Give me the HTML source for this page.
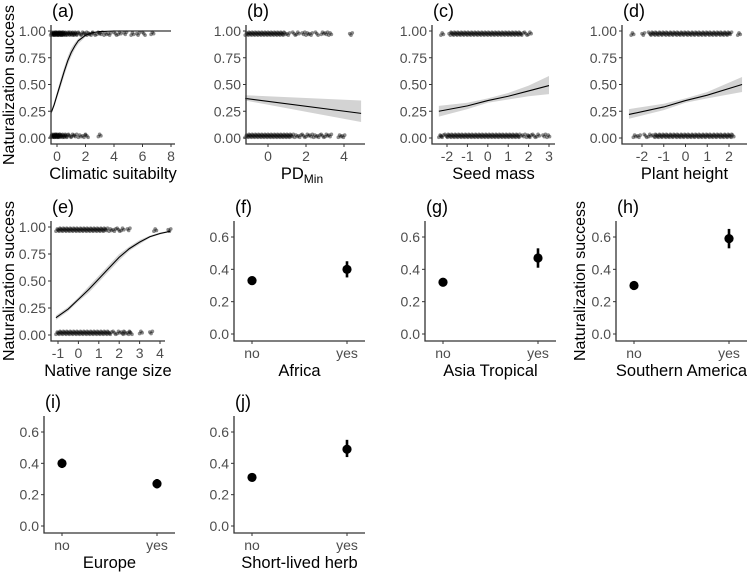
<!DOCTYPE html>
<html><head><meta charset="utf-8">
<style>
html,body{margin:0;padding:0;background:#fff;}
svg{display:block;font-family:"Liberation Sans",Arial,sans-serif;}
.tk{fill:#4d4d4d;font-size:14px;}
.tt{fill:#000;font-size:16.5px;}
.yt{fill:#000;font-size:16px;}
.pl{fill:#000;font-size:18px;}
</style></head>
<body>
<svg id="fig" width="747" height="573" viewBox="0 0 747 573" xmlns="http://www.w3.org/2000/svg"></svg>
<script>
// ---- data ----
const aTop=[-0.45,-0.4,-0.35,-0.3,-0.25,-0.2,-0.15,-0.1,-0.05,0,0.05,0.1,0.15,0.2,0.25,0.3,0.35,0.4,0.5,0.6,0.7,0.8,0.9,1.0,1.1,1.2,1.3,1.5,1.7,1.9,2.1,2.3,2.5,2.8,3.0,3.3,3.6,4.0,4.3,4.7,5.2,5.6,6.0,6.6];
const aBot=[-0.45,-0.4,-0.35,-0.3,-0.25,-0.2,-0.15,-0.1,-0.05,0,0.05,0.1,0.2,0.3,0.4,0.5,0.6,0.8,1.0,1.2,1.5,1.8,2.0,2.9];
const aCx=[-0.4,-0.2,0,0.25,0.5,0.75,1,1.25,1.5,2,2.5,3,4,8];
const aCy=[0.24,0.31,0.40,0.51,0.62,0.72,0.80,0.86,0.91,0.96,0.985,0.995,1,1];
const aLo=[0.22,0.29,0.37,0.47,0.58,0.68,0.76,0.83,0.88,0.945,0.98,0.99,1,1];
const aHi=[0.26,0.34,0.43,0.55,0.66,0.76,0.84,0.89,0.93,0.975,0.99,1,1,1];
const bTop=[-1.2,-1.1,-1.0,-0.9,-0.8,-0.7,-0.6,-0.5,-0.4,-0.3,-0.2,-0.1,0,0.1,0.2,0.3,0.4,0.5,0.6,0.7,0.8,1.0,1.3,1.5,1.8,2.0,2.2,2.5,2.8,3.0,3.2,4.3];
const bBot=[-1.2,-1.1,-1.0,-0.9,-0.8,-0.7,-0.6,-0.5,-0.4,-0.3,-0.2,-0.1,0,0.1,0.2,0.3,0.4,0.5,0.6,0.7,0.8,0.9,1.0,1.1,1.2,1.4,1.6,1.8,2.0,2.2,2.4,2.6,2.8,3.0,3.2,3.7,3.9];
const bCx=[-1.2,4.9];const bCy=[0.37,0.23];const bLo=[0.35,0.15];const bHi=[0.40,0.35];
const cTop=[-2.3,-1.9,-1.8,-1.7,-1.6,-1.5,-1.4,-1.3,-1.2,-1.1,-1.0,-0.9,-0.8,-0.7,-0.6,-0.5,-0.4,-0.3,-0.2,-0.1,0,0.1,0.2,0.3,0.4,0.5,0.6,0.7,0.8,0.9,1.0,1.1,1.2,1.3,1.4,1.5,1.6,1.8,2.0];
const cBot=[-2.4,-2.3,-2.1,-2.0,-1.9,-1.8,-1.7,-1.6,-1.5,-1.4,-1.3,-1.2,-1.1,-1.0,-0.9,-0.8,-0.7,-0.6,-0.5,-0.4,-0.3,-0.2,-0.1,0,0.1,0.2,0.3,0.4,0.5,0.6,0.7,0.8,0.9,1.0,1.1,1.2,1.3,1.4,1.5,1.7,1.9,2.0,2.2,2.4,2.7,2.9];
const cCx=[-2.4,-1,0,1,2,3];const cCy=[0.25,0.30,0.35,0.39,0.44,0.49];
const cLo=[0.20,0.27,0.33,0.36,0.39,0.41];const cHi=[0.30,0.33,0.37,0.42,0.49,0.58];
const dTop=[-2.5,-2.0,-1.7,-1.6,-1.5,-1.4,-1.3,-1.2,-1.1,-1.0,-0.9,-0.8,-0.7,-0.6,-0.5,-0.4,-0.3,-0.2,-0.1,0,0.1,0.2,0.3,0.4,0.5,0.6,0.7,0.8,0.9,1.0,1.1,1.2,1.3,1.4,1.5,1.6,1.7,1.8,1.9,2.0,2.4];
const dBot=[-2.4,-2.2,-1.9,-1.7,-1.5,-1.4,-1.3,-1.2,-1.1,-1.0,-0.9,-0.8,-0.7,-0.6,-0.5,-0.4,-0.3,-0.2,-0.1,0,0.1,0.2,0.3,0.4,0.5,0.6,0.7,0.8,0.9,1.0,1.1,1.2,1.3,1.4,1.5,1.6,1.7,1.8,1.9,2.0,2.1];
const dCx=[-2.6,-1,0,1,2.6];const dCy=[0.22,0.29,0.35,0.40,0.50];
const dLo=[0.18,0.26,0.33,0.37,0.43];const dHi=[0.27,0.32,0.37,0.43,0.57];
const eTop=[-1.1,-1.0,-0.9,-0.8,-0.7,-0.6,-0.5,-0.4,-0.3,-0.2,-0.1,0,0.1,0.2,0.3,0.4,0.5,0.6,0.7,0.8,0.9,1.0,1.1,1.2,1.3,1.5,1.7,1.9,2.1,2.4,3.7,4.4];
const eBot=[-1.1,-1.0,-0.9,-0.8,-0.7,-0.6,-0.5,-0.4,-0.3,-0.2,-0.1,0,0.1,0.2,0.3,0.4,0.5,0.6,0.7,0.8,0.9,1.0,1.1,1.2,1.3,1.4,1.5,1.7,1.9,2.1,2.2,2.4,2.5,3.0,3.5];
const eCx=[-1.1,-0.5,0,0.5,1,1.5,2,2.5,3,3.5,4,4.5];
const eCy=[0.16,0.24,0.33,0.42,0.52,0.62,0.72,0.80,0.86,0.91,0.94,0.96];
const eLo=[0.14,0.22,0.31,0.39,0.49,0.59,0.69,0.78,0.84,0.90,0.93,0.955];
const eHi=[0.18,0.26,0.35,0.45,0.55,0.65,0.75,0.82,0.88,0.92,0.95,0.965];
const catLabels=["no","yes"];
const fMean=[0.33,0.40];const fLo=[0.31,0.35];const fHi=[0.35,0.45];
const gMean=[0.32,0.47];const gLo=[0.30,0.41];const gHi=[0.34,0.53];
const hMean=[0.30,0.59];const hLo=[0.28,0.53];const hHi=[0.32,0.65];
const iMean=[0.40,0.27];const iLo=[0.37,0.24];const iHi=[0.43,0.30];
const jMean=[0.31,0.49];const jLo=[0.29,0.44];const jHi=[0.33,0.55];
const probTicks=[0,0.25,0.5,0.75,1];const probTickLabels=["0.00","0.25","0.50","0.75","1.00"];
const catTicks=[0,0.2,0.4,0.6];const catTickLabels=["0.0","0.2","0.4","0.6"];

// ---- drawing ----
const NS="http://www.w3.org/2000/svg";
const svg=document.getElementById('fig');
function mk(tag,attrs,parent){const e=document.createElementNS(NS,tag);for(const k in attrs)e.setAttribute(k,attrs[k]);(parent||svg).appendChild(e);return e;}
function txt(s,x,y,cls,anchor,parent){const t=mk('text',{x:x,y:y,class:cls,'text-anchor':anchor||'middle'},parent);t.textContent=s;return t;}

function axes(g,L,R,T,B,sy,yt,ytl,xt,xtl,sx){
  const ax=mk('path',{d:`M${L} ${T}V${B}H${R}`,stroke:'#333',fill:'none','stroke-width':1.3},g);
  
  
  yt.forEach((v,i)=>{const y=sy(v);mk('line',{x1:L-3,x2:L,y1:y,y2:y,stroke:'#333'},g);
    const t=txt(ytl[i],L-5,y+5,'tk','end',g);
    
    });
  xt.forEach((v,i)=>{const x=sx(v);mk('line',{x1:x,x2:x,y1:B,y2:B+3,stroke:'#333'},g);
    const t=txt(xtl[i],x,B+17,'tk','middle',g);
    
    });
}
function panel(name,label,L,R,T,B,title){
  const g=mk('g',{});
  
  
  const pl=txt(label,L+1,T-8,'pl','start',g);
  
  
  const tt=txt(title,(L+R)/2,B+35,'tt','middle',g);
  
  
  return [g,tt];
}
function contPanel(name,label,L,R,T,B,x0,px0,x1,px1,xt,title,top,bot,cx,cy,lo,hi){
  const [g]=panel(name,label,L,R,T,B,title);
  const y1=T+6,y0=B-6;
  const sy=v=>y0+(y1-y0)*v;
  const sx=v=>px0+(v-x0)*(px1-px0)/(x1-x0);
  const rib=cx.map((x,i)=>`${sx(x)},${sy(hi[i])}`).concat(cx.map((x,i)=>`${sx(x)},${sy(lo[i])}`).reverse()).join(' ');
  const r=mk('polygon',{points:rib,fill:'#d3d3d3'},g);
  
  
  const pts=mk('g',{fill:'#000','fill-opacity':0.45},g);
  
  
  [[top,0.975],[bot,0.02]].forEach(([arr,base])=>{
    arr.forEach((x,i)=>{for(let k=0;k<3;k++){const off=(((i*7+k*3)%5)-2)*0.007;
      mk('circle',{cx:sx(x)+k*1.3,cy:sy(base+off),r:1.8},pts);}});
  });
  const ln=mk('polyline',{points:cx.map((x,i)=>`${sx(x)},${sy(cy[i])}`).join(' '),fill:'none',stroke:'#000','stroke-width':1.1},g);
  
  
  axes(g,L,R,T,B,sy,probTicks,probTickLabels,xt,xt.map(v=>String(v)),sx);
  return g;
}
function catPanel(name,label,L,T,B,title,mean,lo,hi){
  const R=L+131;
  const [g]=panel(name,label,L,R,T,B,title);
  const p0=B-7,p6=T+16;
  const sy=v=>p0+(p6-p0)*v/0.6;
  const sx=i=>L+18+i*95;
  mean.forEach((m,i)=>{
    const e=mk('line',{x1:sx(i),x2:sx(i),y1:sy(lo[i]),y2:sy(hi[i]),stroke:'#000','stroke-width':2.6},g);
    
    
    const c=mk('circle',{cx:sx(i),cy:sy(m),r:4.6,fill:'#000'},g);
    
    
  });
  axes(g,L,R,T,B,sy,catTicks,catTickLabels,[0,1],catLabels,sx);
  return g;
}
function ytitle(x,y){const t=txt('Naturalization success',0,0,'yt','middle');
  t.setAttribute('transform',`translate(${x},${y}) rotate(-90)`);
  
  }

contPanel('panel-a','(a)',51,175,25,144,0,57,8,171,[0,2,4,6,8],'Climatic suitabilty',aTop,aBot,aCx,aCy,aLo,aHi);
const gb=contPanel('panel-b','(b)',246,365,25,144,0,268,4,344,[0,2,4],'',bTop,bBot,bCx,bCy,bLo,bHi);
const pd=txt('PD',302,179,'tt','middle',gb);
pd.innerHTML='PD<tspan font-size="12" dy="4">Min</tspan>';


contPanel('panel-c','(c)',432,555,25,144,-2,447,3,549,[-2,-1,0,1,2,3],'Seed mass',cTop,cBot,cCx,cCy,cLo,cHi);
contPanel('panel-d','(d)',622,747,25,144,-2,642,2,729,[-2,-1,0,1,2],'Plant height',dTop,dBot,dCx,dCy,dLo,dHi);
contPanel('panel-e','(e)',51,165,221,341,-1,58,4,160,[-1,0,1,2,3,4],'Native range size',eTop,eBot,eCx,eCy,eLo,eHi);
catPanel('panel-f','(f)',234,221,341,'Africa',fMean,fLo,fHi);
catPanel('panel-g','(g)',425,221,341,'Asia Tropical',gMean,gLo,gHi);
catPanel('panel-h','(h)',616,221,341,'Southern America',hMean,hLo,hHi);
catPanel('panel-i','(i)',44,416,533,'Europe',iMean,iLo,iHi);
catPanel('panel-j','(j)',234,416,533,'Short-lived herb',jMean,jLo,jHi);
ytitle(14,85);ytitle(14,281);ytitle(585,281);
</script>
</body></html>
